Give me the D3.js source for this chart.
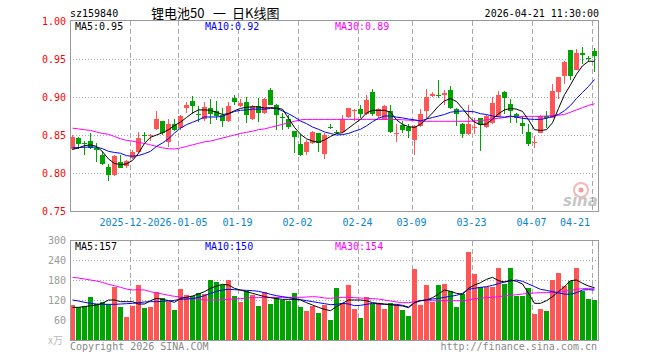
<!DOCTYPE html>
<html><head><meta charset="utf-8">
<script src="https://cdn.jsdelivr.net/npm/d3@7/dist/d3.min.js"></script>
<style>body{margin:0;background:#fff}svg{display:block}</style>
</head><body>
<script>
const openP = [0.832,0.846,0.839,0.842,0.833,0.824,0.808,0.797,0.815,0.809,
0.820,0.827,0.8505,0.849,0.8575,0.868,0.841,0.865,0.859,0.885,
0.895,0.878,0.871,0.885,0.882,0.876,0.868,0.899,0.888,0.894,
0.871,0.888,0.879,0.909,0.889,0.874,0.871,0.855,0.838,0.828,
0.839,0.852,0.825,0.861,0.854,0.854,0.874,0.882,0.884,0.877,
0.907,0.875,0.871,0.881,0.852,0.863,0.860,0.844,0.862,0.882,
0.901,0.902,0.902,0.909,0.884,0.865,0.851,0.860,0.873,0.8605,
0.866,0.875,0.907,0.891,0.878,0.866,0.854,0.840,0.853,0.875,
0.873,0.907,0.928,0.962,0.936,0.958,0.951,0.961];
const highP = [0.850,0.848,0.842,0.853,0.840,0.829,0.812,0.8235,0.8235,0.817,
0.830,0.854,0.854,0.851,0.8815,0.869,0.871,0.871,0.876,0.893,
0.901,0.888,0.894,0.897,0.895,0.886,0.893,0.903,0.897,0.900,
0.890,0.899,0.899,0.912,0.891,0.879,0.876,0.855,0.851,0.843,
0.855,0.853,0.853,0.865,0.857,0.876,0.886,0.884,0.889,0.903,
0.911,0.885,0.890,0.890,0.864,0.869,0.864,0.863,0.884,0.911,
0.907,0.923,0.909,0.914,0.886,0.866,0.890,0.873,0.873,0.877,
0.900,0.908,0.908,0.898,0.879,0.875,0.865,0.849,0.876,0.882,
0.917,0.926,0.948,0.962,0.963,0.966,0.954,0.965];
const lowP = [0.830,0.831,0.824,0.832,0.815,0.811,0.789,0.796,0.806,0.806,
0.819,0.826,0.841,0.842,0.857,0.850,0.834,0.855,0.857,0.879,
0.878,0.867,0.868,0.865,0.870,0.860,0.867,0.890,0.887,0.866,
0.870,0.867,0.878,0.889,0.857,0.857,0.858,0.826,0.822,0.824,
0.838,0.827,0.819,0.858,0.851,0.853,0.873,0.868,0.873,0.876,
0.875,0.873,0.870,0.852,0.841,0.853,0.846,0.824,0.861,0.873,
0.900,0.899,0.890,0.884,0.862,0.846,0.850,0.851,0.829,0.859,
0.865,0.874,0.877,0.866,0.866,0.851,0.836,0.833,0.852,0.859,
0.872,0.897,0.917,0.923,0.935,0.943,0.946,0.933];
const closeP = [0.848,0.838,0.8385,0.833,0.830,0.812,0.798,0.822,0.807,0.816,
0.828,0.8465,0.850,0.850,0.8705,0.852,0.865,0.857,0.875,0.889,
0.888,0.876,0.887,0.877,0.875,0.868,0.888,0.893,0.892,0.876,
0.888,0.879,0.898,0.890,0.876,0.872,0.860,0.848,0.824,0.841,
0.854,0.840,0.850,0.860,0.853,0.871,0.885,0.883,0.878,0.896,
0.877,0.884,0.888,0.854,0.853,0.857,0.855,0.862,0.878,0.900,
0.904,0.901,0.905,0.885,0.877,0.851,0.865,0.861,0.863,0.875,
0.8925,0.9026,0.899,0.881,0.873,0.862,0.838,0.841,0.875,0.872,
0.908,0.926,0.946,0.928,0.958,0.955,0.950,0.954];
const volume = [105,98,102,129,107,114,107,160,99,69,
102,165,97,99,144,126,115,90,153,135,
132,141,138,180,174,164,180,132,114,148,
135,102,145,108,128,120,117,141,99,87,
102,81,105,60,156,111,165,93,66,129,
108,111,93,111,105,90,72,213,105,165,
114,165,168,147,99,138,264,198,159,159,
159,216,168,216,132,132,156,78,93,87,
180,201,162,177,216,147,123,120];
const ma5 = [0.831,0.833,0.836,0.837,0.835,0.828,0.8185,0.8125,0.811,0.812,
0.8165,0.826,0.839,0.847,0.850,0.853,0.857,0.8625,0.867,0.873,
0.879,0.883,0.883,0.8825,0.880,0.877,0.878,0.882,0.885,0.8865,
0.887,0.887,0.8855,0.886,0.8855,0.884,0.872,0.860,0.851,0.845,
0.842,0.8405,0.8435,0.848,0.852,0.853,0.859,0.865,0.8706,0.879,
0.8825,0.8825,0.8825,0.880,0.870,0.864,0.861,0.860,0.864,0.871,
0.879,0.888,0.895,0.898,0.894,0.885,0.875,0.867,0.8635,0.8645,
0.871,0.878,0.883,0.885,0.884,0.881,0.870,0.857,0.856,0.857,
0.866,0.885,0.903,0.916,0.930,0.941,0.947,0.947];
const ma10 = [0.833,0.8335,0.834,0.834,0.834,0.832,0.8285,0.827,0.826,0.8228,
0.822,0.823,0.8254,0.8285,0.835,0.8395,0.845,0.8526,0.859,0.8636,
0.8667,0.870,0.8737,0.8737,0.8737,0.8746,0.878,0.881,0.8825,0.883,
0.884,0.884,0.8838,0.885,0.885,0.8816,0.878,0.8737,0.8684,0.865,
0.8605,0.8575,0.854,0.852,0.850,0.8505,0.852,0.855,0.8575,0.862,
0.8675,0.872,0.875,0.875,0.8735,0.8725,0.871,0.870,0.8685,0.871,
0.873,0.875,0.877,0.880,0.881,0.8816,0.881,0.8805,0.878,0.877,
0.875,0.874,0.8735,0.875,0.8735,0.872,0.871,0.8705,0.8705,0.872,
0.8745,0.877,0.882,0.889,0.898,0.906,0.914,0.923];
const ma30 = [0.859,0.858,0.857,0.856,0.854,0.852,0.851,0.848,0.845,0.843,
0.842,0.840,0.839,0.837,0.835,0.833,0.832,0.8316,0.833,0.835,
0.837,0.839,0.841,0.842,0.844,0.846,0.848,0.850,0.852,0.8535,
0.855,0.857,0.858,0.860,0.862,0.864,0.866,0.868,0.870,0.8705,
0.8705,0.8705,0.8705,0.8705,0.8705,0.8705,0.8705,0.8705,0.8705,0.8705,
0.8705,0.8705,0.8705,0.8705,0.8705,0.870,0.8695,0.869,0.8685,0.868,
0.868,0.868,0.868,0.868,0.868,0.868,0.868,0.8685,0.869,0.870,
0.871,0.872,0.873,0.874,0.8745,0.8745,0.8745,0.8745,0.8745,0.875,
0.8755,0.876,0.877,0.880,0.883,0.886,0.889,0.891];
const vma5 = [98,98,100,103,105,110,120,120,115,115,
115,108,108,118,125,122,118,113,125,128,
132,138,145,155,162,167,165,155,150,145,
140,135,130,127,124,122,122,122,120,112,
105,98,92,88,100,110,120,120,120,118,
112,110,108,106,104,102,97,112,118,120,
127,138,150,146,140,137,155,165,172,182,
188,178,174,180,176,168,140,110,110,118,
130,145,160,178,180,170,162,157];
const vma10 = [120,117,113,110,108,107,107,107,108,109,
110,112,114,115,115,116,117,119,122,123,
124,128,133,140,146,150,152,151,150,149,
148,146,142,137,133,130,127,124,121,118,
115,112,109,106,107,110,108,103,104,107,
110,108,107,107,107,104,99,112,118,120,
123,125,128,131,134,140,152,155,158,160,
164,169,174,177,180,176,168,160,152,149,
145,141,138,137,142,150,151,150];
const vma30 = [188,186,183,180,177,173,167,163,158,153,
150,151,150,145,141,138,134,131,129,126,
124,122,120,120,120,121,122,123,124,126,
127,127,128,128,128,128,128,128,128,129,
130,129,126,125,127,128,128,127,126,125,
124,123,120,117,114,112,112,115,118,118,
118,118,118,118,118,118,120,124,126,127,
128,130,132,134,136,138,140,141,142,142,
143,144,146,149,152,154,155,155];
const tickIndex = [10,18,28,38,48,57,67,77,87];
const tickLabels = ["2025-12-22","2026-01-05","01-19","02-02","02-24","03-09","03-23","04-07","04-21"];
const priceTicks = [1.00,0.95,0.90,0.85,0.80,0.75];
const volTicks = [300,240,180,120,60];
const code = "sz159840";
const titleParts = ["锂电池50","一","日K线图"];
const stamp = "2026-04-21 11:30:00";
const maPriceLabels = ["MA5:0.95","MA10:0.92","MA30:0.89"];
const maVolLabels = ["MA5:157","MA10:150","MA30:154"];

const W=660,H=360, L=70, R=598;
const RED="#ff5555", GREEN="#00a400", MONO="'DejaVu Sans Mono', 'Liberation Mono', monospace";
const CJK="'Noto Sans CJK SC', sans-serif";
const maColors=["#000000","#0000ff","#ff00ff"];
const n = closeP.length;
const svg = d3.select("body").append("svg").attr("width",W).attr("height",H);
svg.append("rect").attr("width",W).attr("height",H).attr("fill","#fff");

const x = d3.scaleBand().domain(d3.range(n)).range([L,R]).padding(0);
const yP = d3.scaleLinear().domain([0.75,1.0]).range([211,21]);
const yV = d3.scaleLinear().domain([0,300]).range([340,240]);
const cx = i => x(i)+2.5;

function panel(top,bottom,gridVals,yS){
  const g = svg.append("g").attr("shape-rendering","crispEdges");
  gridVals.forEach(v=>{
    const yy=Math.round(yS(v))+0.5;
    g.append("line").attr("x1",L).attr("x2",R).attr("y1",yy).attr("y2",yy)
      .attr("stroke","#aaa").attr("stroke-dasharray","1,2");
  });
  tickIndex.forEach(i=>{
    const xx=x(i)+0.5;
    g.append("line").attr("x1",xx).attr("x2",xx).attr("y1",top).attr("y2",bottom)
      .attr("stroke","#aaa").attr("stroke-dasharray","5,3");
  });
}
panel(21,211,[0.95,0.90,0.85,0.80],yP);
panel(241,340,[240,180,120,60],yV);

// candles and volume bars
const cg = svg.append("g").attr("shape-rendering","crispEdges");
d3.range(n).forEach(i=>{
  const up = closeP[i]>=openP[i];
  const col = up?RED:GREEN;
  const yh=Math.round(yP(highP[i])), yl=Math.round(yP(lowP[i]));
  cg.append("rect").attr("x",x(i)+2).attr("y",yh).attr("width",1).attr("height",Math.max(1,yl-yh)).attr("fill",col);
  const yt=Math.round(yP(Math.max(openP[i],closeP[i]))), yb=Math.round(yP(Math.min(openP[i],closeP[i])));
  cg.append("rect").attr("x",x(i)).attr("y",yt).attr("width",5).attr("height",Math.max(1,yb-yt)).attr("fill",col);
  const yv=Math.round(yV(volume[i]));
  cg.append("rect").attr("x",x(i)).attr("y",yv).attr("width",5).attr("height",340-yv).attr("fill",col);
});

// MA lines
const lp = d3.line().x((d,i)=>cx(i)).y(d=>yP(d));
const lv = d3.line().x((d,i)=>cx(i)).y(d=>yV(d));
[ma30,ma10,ma5].forEach((a,k)=>{
  svg.append("path").attr("d",lp(a)).attr("fill","none").attr("stroke",maColors[2-k]).attr("stroke-width",1);
});
[vma30,vma10,vma5].forEach((a,k)=>{
  svg.append("path").attr("d",lv(a)).attr("fill","none").attr("stroke",maColors[2-k]).attr("stroke-width",1);
});

// frames
svg.append("rect").attr("x",L+0.5).attr("y",20.5).attr("width",R-L).attr("height",191).attr("fill","none").attr("stroke","#999").attr("shape-rendering","crispEdges");
svg.append("rect").attr("x",L+0.5).attr("y",240.5).attr("width",R-L).attr("height",100).attr("fill","none").attr("stroke","#999").attr("shape-rendering","crispEdges");

// y labels
priceTicks.forEach(v=>{
  svg.append("text").attr("x",66).attr("y",yP(v)+3.5).attr("text-anchor","end")
   .attr("font-family",MONO).attr("font-size",10).attr("fill","#ff0000").text(v.toFixed(2));
});
volTicks.forEach(v=>{
  svg.append("text").attr("x",66).attr("y",yV(v)+3.5).attr("text-anchor","end")
   .attr("font-family",MONO).attr("font-size",10).attr("fill","#999").text(v);
});
svg.append("text").attr("x",48).attr("y",344).attr("font-family",CJK).attr("font-size",10).attr("fill","#bbb").text("x万");

// x labels (a label that runs into the next one is cut short, as in the original)
const CW=6.02;
const lab = tickIndex.map((idx,k)=>{
  const w = tickLabels[k].length*CW;
  let c = x(idx)-0.5;
  if (c + w/2 > 590) c = 590 - w/2;
  return {left:c-w/2, text:tickLabels[k]};
});
lab.forEach((d,k)=>{
  let t=d.text;
  if (k<lab.length-1){
    const maxChars=Math.floor((lab[k+1].left - d.left + 1)/CW);
    if (maxChars < t.length) t=t.slice(0,maxChars);
  }
  svg.append("text").attr("x",d.left).attr("y",225.5)
    .attr("font-family",MONO).attr("font-size",10).attr("fill","#0a84d0").text(t);
});

// MA legends
const lx=[75,205,335];
maPriceLabels.forEach((t,k)=>svg.append("text").attr("x",lx[k]).attr("y",29.5).attr("font-family",MONO).attr("font-size",10).attr("fill",maColors[k]).text(t));
maVolLabels.forEach((t,k)=>svg.append("text").attr("x",lx[k]).attr("y",249.5).attr("font-family",MONO).attr("font-size",10).attr("fill",maColors[k]).text(t));

// header
svg.append("text").attr("x",70).attr("y",17).attr("font-family",MONO).attr("font-size",10).attr("fill","#000").text(code);
const tt = svg.append("text").attr("y",18).attr("font-family",CJK).attr("font-size",13).attr("fill","#000");
const tx=[151,213,232];
titleParts.forEach((p,k)=>tt.append("tspan").attr("x",tx[k]).text(p));
svg.append("text").attr("x",599).attr("y",17).attr("text-anchor","end").attr("font-family",MONO).attr("font-size",10).attr("fill","#000").text(stamp);

// footer
svg.append("text").attr("x",70).attr("y",349.5).attr("font-family",MONO).attr("font-size",10).attr("fill","#888").text("Copyright 2026 SINA.COM");
svg.append("text").attr("x",597).attr("y",349.5).attr("text-anchor","end").attr("font-family",MONO).attr("font-size",10).attr("fill","#888").text("http://finance.sina.com.cn");

// sina watermark
const wm = svg.append("g").attr("opacity",0.55);
wm.append("circle").attr("cx",581).attr("cy",190).attr("r",7).attr("fill","none").attr("stroke","#f08080").attr("stroke-width",2);
wm.append("circle").attr("cx",581).attr("cy",190).attr("r",2.5).attr("fill","#e05050");
wm.append("text").attr("x",563).attr("y",206).attr("font-family","'DejaVu Sans', sans-serif").attr("font-style","italic").attr("font-weight","bold").attr("font-size",15).attr("fill","#999").text("sina");
</script>
</body></html>
